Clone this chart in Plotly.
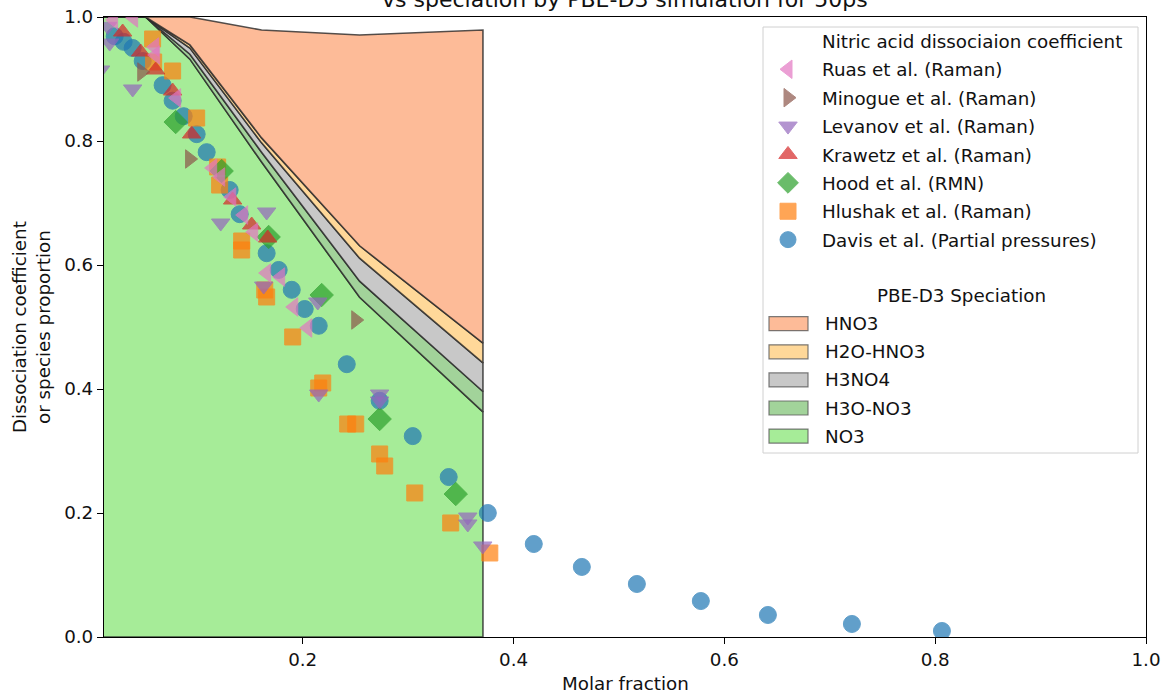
import numpy as np
import plotly.graph_objects as go

# ---------------- PBE-D3 speciation (fraction of each species) ----------------
spec_x = [0.0115, 0.051, 0.093, 0.161, 0.254, 0.371]
spec_no3 = [1.0, 1.0, 0.932, 0.766, 0.548, 0.363]
spec_h3o_no3 = [0.0, 0.0, 0.008, 0.016, 0.026, 0.033]
spec_h3no4 = [0.0, 0.0, 0.010, 0.015, 0.037, 0.046]
spec_h2o_hno3 = [0.0, 0.0, 0.005, 0.008, 0.020, 0.032]
spec_hno3 = [0.0, 0.0, 0.045, 0.174, 0.340, 0.505]

# ---------------- experimental dissociation coefficients ----------------
davis_x = [0.0216, 0.0301, 0.0387, 0.0482, 0.0671, 0.0766, 0.0871, 0.0994, 0.1089,
           0.1307, 0.1402, 0.1658, 0.1772, 0.1896, 0.2019, 0.2152, 0.2418, 0.2730,
           0.3044, 0.3385, 0.3756, 0.4192, 0.4648, 0.5170, 0.5777, 0.6413, 0.7210,
           0.8064]
davis_y = [0.969, 0.960, 0.950, 0.929, 0.890, 0.865, 0.840, 0.811, 0.782,
           0.721, 0.682, 0.619, 0.592, 0.560, 0.529, 0.502, 0.440, 0.381,
           0.324, 0.258, 0.200, 0.150, 0.113, 0.0855, 0.058, 0.0355, 0.021,
           0.0097]

hlushak_x = [0.0576, 0.0586, 0.0766, 0.0994, 0.1193, 0.1212, 0.1421, 0.1421, 0.1640,
             0.1658, 0.1905, 0.2152, 0.2190, 0.2427, 0.2503, 0.2730, 0.2778, 0.3063,
             0.3404, 0.3775]
hlushak_y = [0.9645, 0.9274, 0.9129, 0.8371, 0.7581, 0.7290, 0.6387, 0.6242, 0.5597,
             0.5484, 0.4839, 0.4016, 0.4097, 0.3435, 0.3435, 0.2952, 0.2758, 0.2323,
             0.1839, 0.1355]

hood_x = [0.0795, 0.1231, 0.1677, 0.2180, 0.2730, 0.3452]
hood_y = [0.8306, 0.7516, 0.6452, 0.5516, 0.3516, 0.2306]

krawetz_x = [0.0292, 0.0463, 0.0605, 0.0766, 0.0946, 0.1335, 0.1516, 0.1668]
krawetz_y = [0.9758, 0.9435, 0.9145, 0.8806, 0.8113, 0.7048, 0.6645, 0.6435]

levanov_x = [0.0083, 0.0150, 0.0169, 0.0387, 0.1222, 0.1658, 0.1630, 0.2143, 0.2152,
             0.2730, 0.2730, 0.3566, 0.3566, 0.3708]
levanov_y = [0.9145, 0.985, 0.958, 0.8839, 0.6677, 0.6855, 0.5661, 0.5403, 0.3919,
             0.3919, 0.3806, 0.1935, 0.1823, 0.1468]

minogue_x = [0.0473, 0.0927, 0.2503]
minogue_y = [0.9113, 0.7710, 0.5113]

ruas_x = [0.0206, 0.0396, 0.0595, 0.0605, 0.0804, 0.1146, 0.1222, 0.1327, 0.1440,
          0.1535, 0.1658, 0.1791, 0.1915, 0.2048]
ruas_y = [0.9952, 0.9984, 0.9516, 0.9387, 0.8694, 0.7565, 0.7419, 0.7097, 0.6806,
          0.6532, 0.5871, 0.5806, 0.5323, 0.4984]

x_ticks = [0.2, 0.4, 0.6, 0.8, 1.0]
y_ticks = [0.0, 0.2, 0.4, 0.6, 0.8, 1.0]

FONT = "DejaVu Sans"
FS = 18.3
EDGE = "rgba(40,40,40,0.8)"

fig = go.Figure()

# stacked speciation areas, drawn bottom-up as closed polygons
species = [
    ("NO3", spec_no3, "#a6ec98"),
    ("H3O-NO3", spec_h3o_no3, "#a2d39a"),
    ("H3NO4", spec_h3no4, "#c8c8c8"),
    ("H2O-HNO3", spec_h2o_hno3, "#ffd899"),
    ("HNO3", spec_hno3, "#fdbb98"),
]
bottom = np.zeros(len(spec_x))
for name, frac, color in species:
    top = bottom + np.asarray(frac)
    xs = list(spec_x) + list(spec_x[::-1])
    ys = list(top) + list(bottom[::-1])
    fig.add_trace(go.Scatter(
        x=xs, y=ys, mode="lines", fill="toself", fillcolor=color,
        line=dict(color=EDGE, width=1.6), name=name,
        showlegend=False, hoverinfo="skip"))
    bottom = top

# experimental points, in drawing order; legend rank puts the last drawn on top
series = [
    ("Davis et al. (Partial pressures)", davis_x, davis_y, "circle", "#1f77b4", 17),
    ("Hlushak et al. (Raman)", hlushak_x, hlushak_y, "square", "#ff7f0e", 16),
    ("Hood et al. (RMN)", hood_x, hood_y, "diamond", "#2ca02c", 18),
    ("Krawetz et al. (Raman)", krawetz_x, krawetz_y, "triangle-up", "#d62728", 16),
    ("Levanov et al. (Raman)", levanov_x, levanov_y, "triangle-down", "#9467bd", 16),
    ("Minogue et al. (Raman)", minogue_x, minogue_y, "triangle-right", "#8c564b", 16),
    ("Ruas et al. (Raman)", ruas_x, ruas_y, "triangle-left", "#e377c2", 16),
]
n = len(series)
for i, (name, xs, ys, sym, color, size) in enumerate(series):
    fig.add_trace(go.Scatter(
        x=xs, y=ys, mode="markers", name=name, legendgroup=f"g{i}",
        legendrank=10 + (n - i),
        marker=dict(symbol=sym, size=size, color=color, opacity=0.7,
                    line=dict(color=color, width=1))))

# heading row of the first legend block (no symbol)
fig.add_trace(go.Scatter(
    x=[None], y=[None], mode="markers", name="Nitric acid dissociaion coefficient",
    legendgroup="head", legendrank=1,
    marker=dict(size=1, color="rgba(0,0,0,0)", line=dict(width=0, color="rgba(0,0,0,0)"))))

# ---------------- legend box and speciation legend block ----------------
W, H = 1168, 700
ML, MR, MT, MB = 104, 22, 17, 63
PW, PH = W - ML - MR, H - MT - MB


def px_x(p):
    return (p - ML) / PW


def px_y(p):
    return (H - MB - p) / PH


shapes = [dict(type="rect", xref="paper", yref="paper",
               x0=px_x(763), x1=px_x(1138), y0=px_y(453), y1=px_y(27),
               line=dict(color="#d0d0d0", width=1), fillcolor="rgba(255,255,255,0.8)",
               layer="above")]
annotations = [dict(text="PBE-D3 Speciation", xref="paper", yref="paper",
                    x=px_x(961), y=px_y(295), xanchor="center", yanchor="middle",
                    showarrow=False, font=dict(family=FONT, size=FS, color="#111"))]
row0, step = 323.7, 28.1
for k, (name, frac, color) in enumerate(species[::-1]):
    yc = row0 + k * step
    shapes.append(dict(type="rect", xref="paper", yref="paper",
                       x0=px_x(769), x1=px_x(808), y0=px_y(yc + 7), y1=px_y(yc - 7),
                       fillcolor=color, line=dict(color="rgba(90,90,90,0.8)", width=1.2),
                       layer="above"))
    annotations.append(dict(text=name, xref="paper", yref="paper",
                            x=px_x(823), y=px_y(yc), xanchor="left", yanchor="middle",
                            showarrow=False, font=dict(family=FONT, size=FS, color="#111")))

# title (second line), axis titles
annotations += [
    dict(text="vs speciation by PBE-D3 simulation for 50ps", xref="paper", yref="paper",
         x=0.5, y=px_y(14), xanchor="center", yanchor="bottom", showarrow=False,
         font=dict(family=FONT, size=22, color="#111")),
    dict(text="Molar fraction", xref="paper", yref="paper", x=0.5, y=px_y(684),
         xanchor="center", yanchor="middle", showarrow=False,
         font=dict(family=FONT, size=FS, color="#111")),
    dict(text="Dissociation coefficient<br>or species proportion", xref="paper",
         yref="paper", x=px_x(31), y=0.5, xanchor="center", yanchor="middle",
         textangle=-90, showarrow=False, font=dict(family=FONT, size=FS, color="#111")),
]

axis_common = dict(showgrid=False, zeroline=False, showline=True, mirror=True,
                   linecolor="black", linewidth=1.2, ticks="outside", ticklen=6,
                   tickwidth=1.2, tickcolor="black", automargin=False,
                   tickfont=dict(family=FONT, size=FS, color="#111"))

fig.update_layout(
    width=W, height=H,
    margin=dict(l=ML, r=MR, t=MT, b=MB, autoexpand=False),
    paper_bgcolor="white", plot_bgcolor="white",
    font=dict(family=FONT, size=FS, color="#111"),
    xaxis=dict(range=[0.0115, 1.0], tickvals=x_ticks,
               ticktext=[f"{v:.1f}" for v in x_ticks], **axis_common),
    yaxis=dict(range=[0.0, 1.0], tickvals=y_ticks,
               ticktext=[f"{v:.1f}" for v in y_ticks], **axis_common),
    legend=dict(x=px_x(754), y=px_y(22.5), xanchor="left", yanchor="top",
                bgcolor="rgba(0,0,0,0)", borderwidth=0, itemwidth=58,
                traceorder="grouped", tracegroupgap=1.6,
                font=dict(family=FONT, size=FS, color="#111")),
    shapes=shapes,
    annotations=annotations,
    showlegend=True,
)

fig.write_html("out.html")
